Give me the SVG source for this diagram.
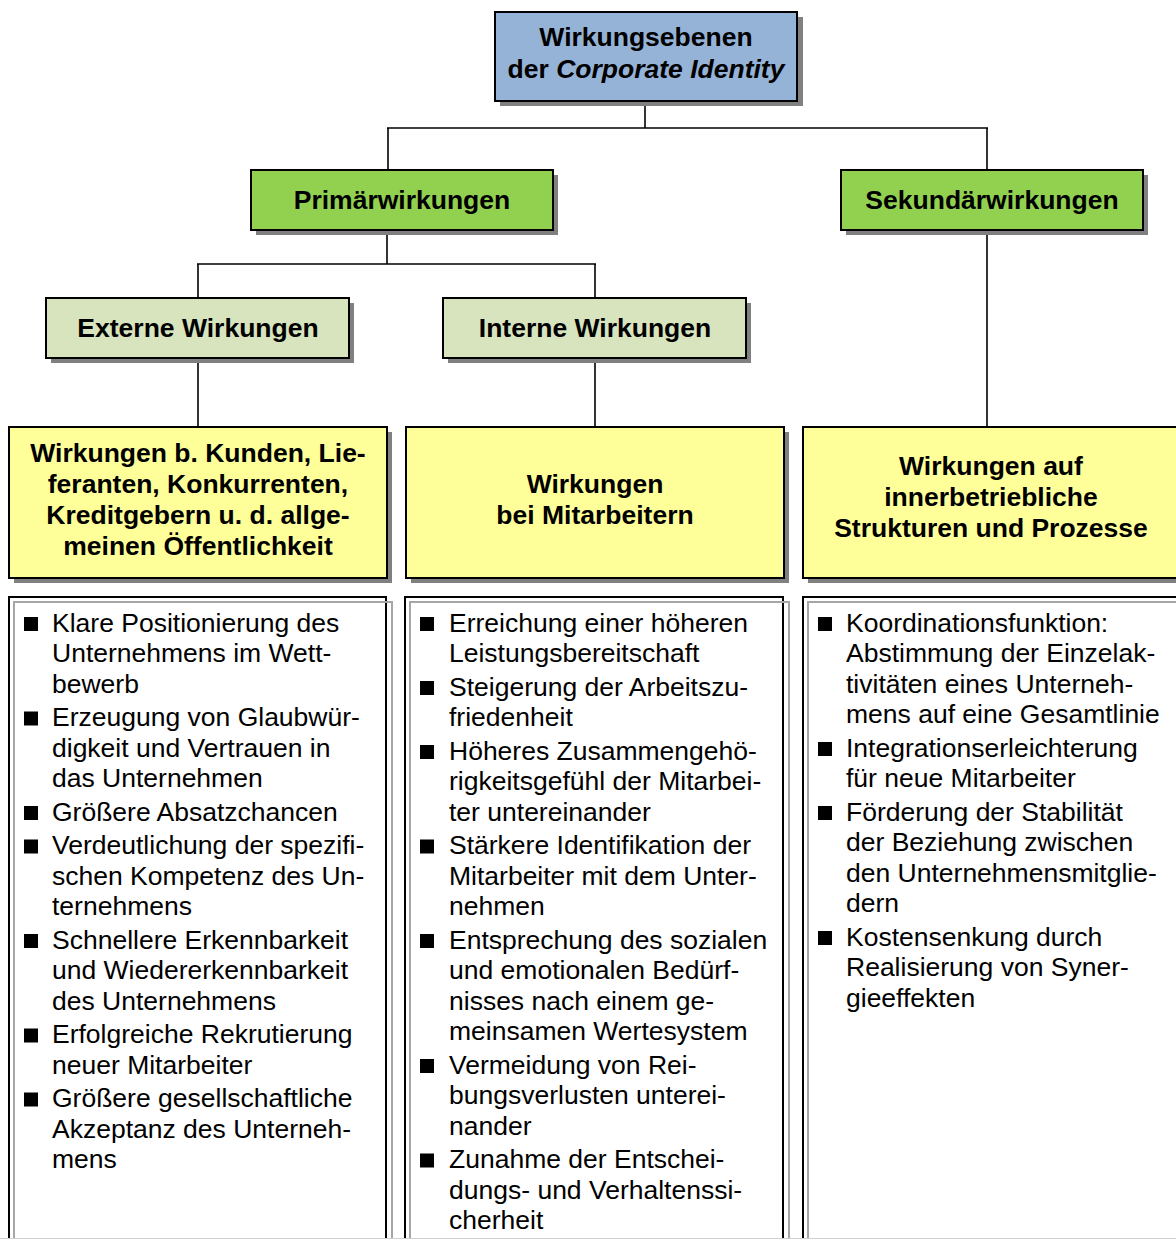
<svg xmlns="http://www.w3.org/2000/svg" width="1176" height="1239" viewBox="0 0 1176 1239">
<style>
.sh{fill:#808080}
.bx{stroke:#000;stroke-width:2}
.blue{fill:#95B3D7}.green{fill:#92D050}.lgreen{fill:#D7E4BD}.yellow{fill:#FFFF99}
.h{font-family:"Liberation Sans",Arial,sans-serif;font-weight:bold;font-size:26.5px;fill:#000;text-anchor:middle}
.t{font-family:"Liberation Sans",Arial,sans-serif;font-size:26.5px;fill:#000}
.list{fill:#fff;stroke:#000;stroke-width:2}
.inner{fill:none;stroke:#a6a6a6;stroke-width:2}
.conn line{stroke:#000;stroke-width:1.6}
</style>
<rect width="1176" height="1239" fill="#fff"/>
<g class="conn">
<line x1="645" y1="101" x2="645" y2="128"/>
<line x1="387" y1="128" x2="988" y2="128"/>
<line x1="388" y1="128" x2="388" y2="170"/>
<line x1="987" y1="128" x2="987" y2="170"/>
<line x1="387" y1="230" x2="387" y2="264"/>
<line x1="197" y1="264" x2="596" y2="264"/>
<line x1="198" y1="264" x2="198" y2="298"/>
<line x1="595" y1="264" x2="595" y2="298"/>
<line x1="198" y1="359" x2="198" y2="427"/>
<line x1="595" y1="359" x2="595" y2="427"/>
<line x1="987" y1="230" x2="987" y2="427"/>
</g>
<g id="root">
<rect class="sh" x="500" y="17" width="303" height="89"/>
<rect class="bx blue" x="495" y="12" width="302" height="89"/>
<text class="h" x="646" y="46">Wirkungsebenen</text>
<text class="h" x="646" y="78">der <tspan font-style="italic">Corporate Identity</tspan></text>
</g>
<g id="primaer">
<rect class="sh" x="256" y="175" width="302" height="60"/>
<rect class="bx green" x="251" y="170" width="302" height="60"/>
<text class="h" x="402" y="209">Primärwirkungen</text>
</g>
<g id="sekundaer">
<rect class="sh" x="846" y="175" width="302" height="60"/>
<rect class="bx green" x="841" y="170" width="302" height="60"/>
<text class="h" x="992" y="209">Sekundärwirkungen</text>
</g>
<g id="extern">
<rect class="sh" x="51" y="303" width="303" height="60"/>
<rect class="bx lgreen" x="46" y="298" width="303" height="60"/>
<text class="h" x="198" y="337">Externe Wirkungen</text>
</g>
<g id="intern">
<rect class="sh" x="448" y="303" width="303" height="60"/>
<rect class="bx lgreen" x="443" y="298" width="303" height="60"/>
<text class="h" x="595" y="337">Interne Wirkungen</text>
</g>
<g id="kunden">
<rect class="sh" x="14" y="432" width="378" height="151"/>
<rect class="bx yellow" x="9" y="427" width="378" height="151"/>
<text class="h" x="198" y="462">Wirkungen b. Kunden, Lie-</text>
<text class="h" x="198" y="493">feranten, Konkurrenten,</text>
<text class="h" x="198" y="524">Kreditgebern u. d. allge-</text>
<text class="h" x="198" y="555">meinen Öffentlichkeit</text>
</g>
<g id="mitarbeiter">
<rect class="sh" x="411" y="432" width="378" height="151"/>
<rect class="bx yellow" x="406" y="427" width="378" height="151"/>
<text class="h" x="595" y="493">Wirkungen</text>
<text class="h" x="595" y="524">bei Mitarbeitern</text>
</g>
<g id="strukturen">
<rect class="sh" x="808" y="432" width="378" height="151"/>
<rect class="bx yellow" x="803" y="427" width="378" height="151"/>
<text class="h" x="991" y="475">Wirkungen auf</text>
<text class="h" x="991" y="506">innerbetriebliche</text>
<text class="h" x="991" y="537">Strukturen und Prozesse</text>
</g>
<g id="liste1">
<rect class="list" x="9" y="597" width="377" height="660"/>
<rect class="inner" x="14" y="602" width="378" height="660"/>
<g fill="#000">
<rect x="24" y="617" width="14" height="14"/>
<rect x="24" y="711.5" width="14" height="14"/>
<rect x="24" y="806" width="14" height="14"/>
<rect x="24" y="839.5" width="14" height="14"/>
<rect x="24" y="934" width="14" height="14"/>
<rect x="24" y="1028.5" width="14" height="14"/>
<rect x="24" y="1092.5" width="14" height="14"/>
</g>
<text class="t" x="52" y="631.5">Klare Positionierung des</text>
<text class="t" x="52" y="662">Unternehmens im Wett-</text>
<text class="t" x="52" y="692.5">bewerb</text>
<text class="t" x="52" y="726">Erzeugung von Glaubwür-</text>
<text class="t" x="52" y="756.5">digkeit und Vertrauen in</text>
<text class="t" x="52" y="787">das Unternehmen</text>
<text class="t" x="52" y="820.5">Größere Absatzchancen</text>
<text class="t" x="52" y="854">Verdeutlichung der spezifi-</text>
<text class="t" x="52" y="884.5">schen Kompetenz des Un-</text>
<text class="t" x="52" y="915">ternehmens</text>
<text class="t" x="52" y="948.5">Schnellere Erkennbarkeit</text>
<text class="t" x="52" y="979">und Wiedererkennbarkeit</text>
<text class="t" x="52" y="1009.5">des Unternehmens</text>
<text class="t" x="52" y="1043">Erfolgreiche Rekrutierung</text>
<text class="t" x="52" y="1073.5">neuer Mitarbeiter</text>
<text class="t" x="52" y="1107">Größere gesellschaftliche</text>
<text class="t" x="52" y="1137.5">Akzeptanz des Unterneh-</text>
<text class="t" x="52" y="1168">mens</text>
</g>
<g id="liste2">
<rect class="list" x="405" y="597" width="378" height="660"/>
<rect class="inner" x="410" y="602" width="379" height="660"/>
<g fill="#000">
<rect x="420" y="617" width="14" height="14"/>
<rect x="420" y="681" width="14" height="14"/>
<rect x="420" y="745" width="14" height="14"/>
<rect x="420" y="839.5" width="14" height="14"/>
<rect x="420" y="934" width="14" height="14"/>
<rect x="420" y="1059" width="14" height="14"/>
<rect x="420" y="1153.5" width="14" height="14"/>
</g>
<text class="t" x="449" y="631.5">Erreichung einer höheren</text>
<text class="t" x="449" y="662">Leistungsbereitschaft</text>
<text class="t" x="449" y="695.5">Steigerung der Arbeitszu-</text>
<text class="t" x="449" y="726">friedenheit</text>
<text class="t" x="449" y="759.5">Höheres Zusammengehö-</text>
<text class="t" x="449" y="790">rigkeitsgefühl der Mitarbei-</text>
<text class="t" x="449" y="820.5">ter untereinander</text>
<text class="t" x="449" y="854">Stärkere Identifikation der</text>
<text class="t" x="449" y="884.5">Mitarbeiter mit dem Unter-</text>
<text class="t" x="449" y="915">nehmen</text>
<text class="t" x="449" y="948.5">Entsprechung des sozialen</text>
<text class="t" x="449" y="979">und emotionalen Bedürf-</text>
<text class="t" x="449" y="1009.5">nisses nach einem ge-</text>
<text class="t" x="449" y="1040">meinsamen Wertesystem</text>
<text class="t" x="449" y="1073.5">Vermeidung von Rei-</text>
<text class="t" x="449" y="1104">bungsverlusten unterei-</text>
<text class="t" x="449" y="1134.5">nander</text>
<text class="t" x="449" y="1168">Zunahme der Entschei-</text>
<text class="t" x="449" y="1198.5">dungs- und Verhaltenssi-</text>
<text class="t" x="449" y="1229">cherheit</text>
</g>
<g id="liste3">
<rect class="list" x="803" y="597" width="380" height="660"/>
<rect class="inner" x="808" y="602" width="380" height="660"/>
<g fill="#000">
<rect x="818" y="617" width="14" height="14"/>
<rect x="818" y="742" width="14" height="14"/>
<rect x="818" y="806" width="14" height="14"/>
<rect x="818" y="931" width="14" height="14"/>
</g>
<text class="t" x="846" y="631.5">Koordinationsfunktion:</text>
<text class="t" x="846" y="662">Abstimmung der Einzelak-</text>
<text class="t" x="846" y="692.5">tivitäten eines Unterneh-</text>
<text class="t" x="846" y="723">mens auf eine Gesamtlinie</text>
<text class="t" x="846" y="756.5">Integrationserleichterung</text>
<text class="t" x="846" y="787">für neue Mitarbeiter</text>
<text class="t" x="846" y="820.5">Förderung der Stabilität</text>
<text class="t" x="846" y="851">der Beziehung zwischen</text>
<text class="t" x="846" y="881.5">den Unternehmensmitglie-</text>
<text class="t" x="846" y="912">dern</text>
<text class="t" x="846" y="945.5">Kostensenkung durch</text>
<text class="t" x="846" y="976">Realisierung von Syner-</text>
<text class="t" x="846" y="1006.5">gieeffekten</text>
</g>
<line x1="0" y1="1238.5" x2="1176" y2="1238.5" stroke="#d0d0d0" stroke-width="1"/>
</svg>
